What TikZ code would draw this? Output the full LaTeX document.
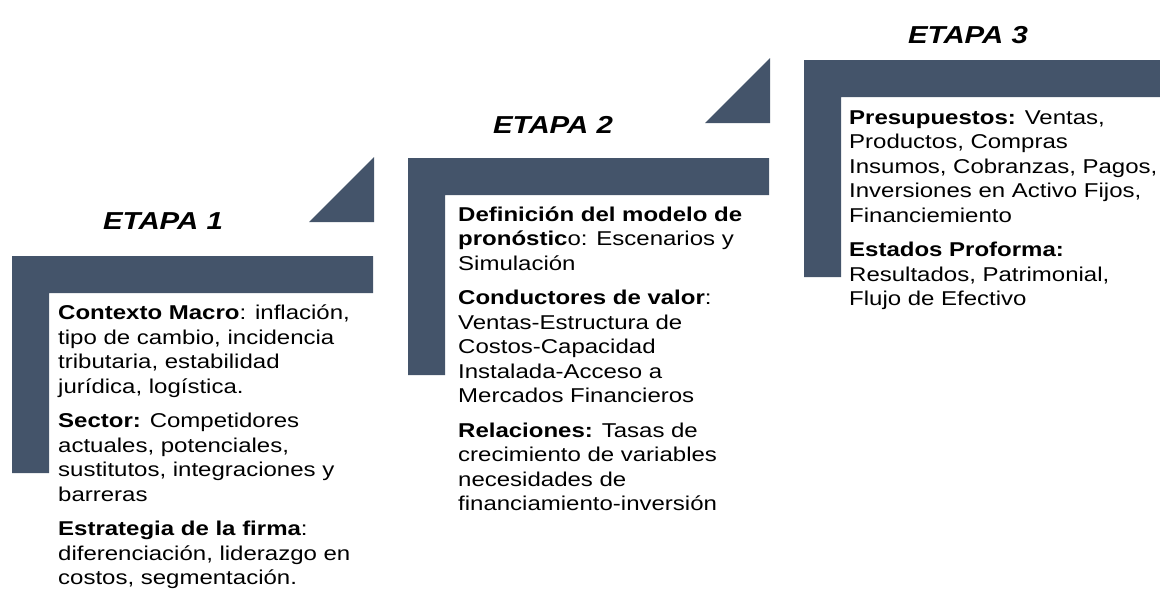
\documentclass[tikz,border=0pt]{standalone}
\usepackage{fontspec}
\setmainfont{Liberation Sans}[FakeStretch=1.2]
\usetikzlibrary{calc}
\definecolor{pizarra}{RGB}{68,84,106}

\tikzset{
  barra/.style={fill=pizarra, draw=none},
  titulo/.style={anchor=base, inner sep=0pt, font=\fontsize{24.5}{29}\selectfont\bfseries\itshape},
  cuerpo/.style={anchor=base west, inner sep=0pt, align=left, font=\fontsize{20}{24.5}\selectfont},
}

\begin{document}
\begin{tikzpicture}[x=1pt,y=-1pt]
  \useasboundingbox (0,0) rectangle (1160,590);
  % escalones
  \foreach \dx/\dy in {0/0, 396/-98, 792/-196}
    \fill[barra, shift={(\dx,\dy)}] (12,256) -- (373,256) -- (373,293) -- (49,293) -- (49,473) -- (12,473) -- cycle;
  \foreach \dx/\dy in {0/0, 396/-99}
    \fill[barra, shift={(\dx,\dy)}] (309,222) -- (374,157) -- (374,222) -- cycle;

  \node[titulo] (etapa1) at (163,229) {ETAPA 1};
  \node[titulo] (etapa2) at (553,133) {ETAPA 2};
  \node[titulo] (etapa3) at (968,43) {ETAPA 3};

  % el ancla base queda en la ultima linea
  \node[cuerpo] (texto1) at (58,584.5) {{\bfseries Contexto Macro}: inflación,\\
    tipo de cambio, incidencia\\
    tributaria, estabilidad\\
    jurídica, logística.\\[10pt]
    {\bfseries Sector:} Competidores\\
    actuales, potenciales,\\
    sustitutos, integraciones y\\
    barreras\\[10pt]
    {\bfseries Estrategia de la firma}:\\
    diferenciación, liderazgo en\\
    costos, segmentación.};
  \node[cuerpo] (texto2) at (458,510.5) {{\bfseries Definición del modelo de}\\
    {\bfseries pronóstic}o: Escenarios y\\
    Simulación\\[10pt]
    {\bfseries Conductores de valor}:\\
    Ventas-Estructura de\\
    Costos-Capacidad\\
    Instalada-Acceso a\\
    Mercados Financieros\\[10pt]
    {\bfseries Relaciones:} Tasas de\\
    crecimiento de variables\\
    necesidades de\\
    financiamiento-inversión};
  \node[cuerpo] (texto3) at (849,305.5) {{\bfseries Presupuestos:} Ventas,\\
    Productos, Compras\\
    Insumos, Cobranzas, Pagos,\\
    Inversiones en Activo Fijos,\\
    Financiemiento\\[10pt]
    {\bfseries Estados Proforma:}\\
    Resultados, Patrimonial,\\
    Flujo de Efectivo};
\end{tikzpicture}
\end{document}
